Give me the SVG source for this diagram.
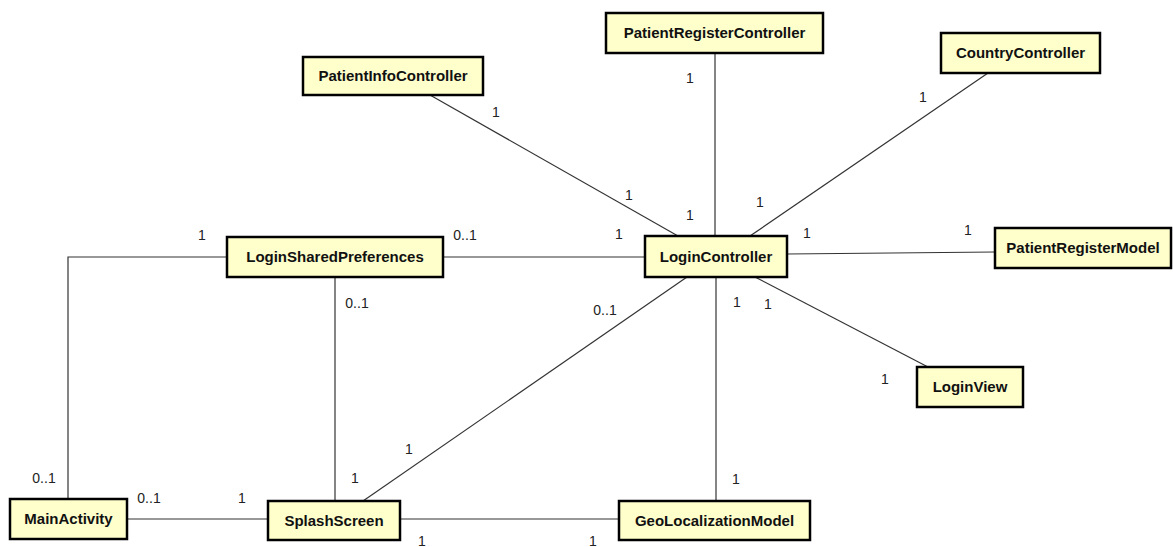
<svg xmlns="http://www.w3.org/2000/svg" width="1173" height="547" viewBox="0 0 1173 547">
<style>
.box{fill:#ffffcc;stroke:#000;stroke-width:2.5}
.name{font-family:"Liberation Sans",Arial,sans-serif;font-size:15px;font-weight:bold;fill:#111;text-anchor:middle}
.edge{fill:none;stroke:#333;stroke-width:1.2}
.m{font-family:"Liberation Sans",Arial,sans-serif;font-size:14px;fill:#222;text-anchor:middle}
</style>
<rect width="1173" height="547" fill="#fff"/>
<g id="connectors">
<path class="edge" d="M430,95 L678,236"/>
<path class="edge" d="M715,53 L715,236"/>
<path class="edge" d="M988,73 L750,236"/>
<path class="edge" d="M443,257 L645,257"/>
<path class="edge" d="M787,254 L995,252"/>
<path class="edge" d="M755,277 L928,367"/>
<path class="edge" d="M687,277 L363,501"/>
<path class="edge" d="M716,277 L716,501"/>
<path class="edge" d="M335,277 L335,501"/>
<path class="edge" d="M227,257 L68,257 L68,499"/>
<path class="edge" d="M127,519 L268,519"/>
<path class="edge" d="M400,519 L619,519"/>
<g id="labels">
<text class="m" x="496" y="117">1</text>
<text class="m" x="629" y="200">1</text>
<text class="m" x="690" y="83">1</text>
<text class="m" x="690" y="220">1</text>
<text class="m" x="923" y="102">1</text>
<text class="m" x="760" y="207">1</text>
<text class="m" x="202" y="240">1</text>
<text class="m" x="465" y="240">0..1</text>
<text class="m" x="619" y="239">1</text>
<text class="m" x="807" y="238">1</text>
<text class="m" x="968" y="235">1</text>
<text class="m" x="357" y="308">0..1</text>
<text class="m" x="605" y="315">0..1</text>
<text class="m" x="737" y="307">1</text>
<text class="m" x="768" y="309">1</text>
<text class="m" x="885" y="384">1</text>
<text class="m" x="409" y="454">1</text>
<text class="m" x="355" y="483">1</text>
<text class="m" x="736" y="484">1</text>
<text class="m" x="44" y="483">0..1</text>
<text class="m" x="149" y="503">0..1</text>
<text class="m" x="242" y="503">1</text>
<text class="m" x="422" y="546">1</text>
<text class="m" x="593" y="546">1</text>
</g>
</g>
<g id="PatientRegisterController"><rect class="box" x="606" y="13" width="217" height="40"/><text class="name" x="714.5" y="38">PatientRegisterController</text></g>
<g id="PatientInfoController"><rect class="box" x="303" y="57" width="180" height="38"/><text class="name" x="393" y="81">PatientInfoController</text></g>
<g id="CountryController"><rect class="box" x="941" y="33" width="159" height="40"/><text class="name" x="1020.5" y="58">CountryController</text></g>
<g id="LoginSharedPreferences"><rect class="box" x="227" y="237" width="216" height="40"/><text class="name" x="335" y="262">LoginSharedPreferences</text></g>
<g id="LoginController"><rect class="box" x="645" y="236" width="142" height="41"/><text class="name" x="716" y="261.5">LoginController</text></g>
<g id="PatientRegisterModel"><rect class="box" x="995" y="228" width="176" height="40"/><text class="name" x="1083" y="253">PatientRegisterModel</text></g>
<g id="LoginView"><rect class="box" x="917" y="367" width="106" height="40"/><text class="name" x="970" y="392">LoginView</text></g>
<g id="MainActivity"><rect class="box" x="10" y="499" width="117" height="40"/><text class="name" x="68.5" y="524">MainActivity</text></g>
<g id="SplashScreen"><rect class="box" x="268" y="501" width="132" height="39"/><text class="name" x="334" y="525.5">SplashScreen</text></g>
<g id="GeoLocalizationModel"><rect class="box" x="619" y="501" width="191" height="39"/><text class="name" x="714.5" y="525.5">GeoLocalizationModel</text></g>
</svg>
